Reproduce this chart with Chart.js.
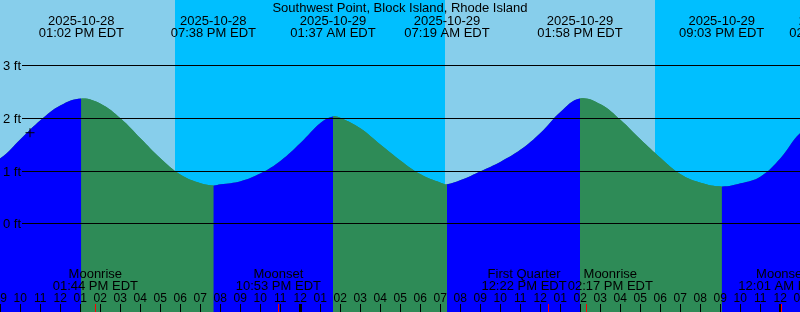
<!DOCTYPE html>
<html>
<head>
<meta charset="utf-8">
<script src="https://cdn.jsdelivr.net/npm/chart.js@4.4.1/dist/chart.umd.min.js"></script>
<style>
  html, body { margin: 0; padding: 0; background: #87ceeb; }
  #tide { display: block; }
</style>
</head>
<body>
<canvas id="tide" width="800" height="312"></canvas>
<script>
(function() {
  const stationName = 'Southwest Point, Block Island, Rhode Island';

  // predicted water level ('MM-DD HH:MM' EDT, feet)
  const tideTimes = [
    '10-28 06:40', '10-28 09:00', '10-28 10:00', '10-28 11:00', '10-28 12:00',
    '10-28 13:02', '10-28 14:00', '10-28 15:00', '10-28 16:00', '10-28 17:00', '10-28 18:00',
    '10-28 19:00', '10-28 19:38', '10-28 20:00', '10-28 21:00', '10-28 22:00', '10-28 23:00',
    '10-29 00:00', '10-29 01:00', '10-29 01:37', '10-29 02:00', '10-29 03:00', '10-29 04:00',
    '10-29 05:00', '10-29 06:00', '10-29 07:00', '10-29 07:19', '10-29 08:00', '10-29 09:00',
    '10-29 10:00', '10-29 11:00', '10-29 12:00', '10-29 13:00', '10-29 13:58', '10-29 15:00',
    '10-29 16:00', '10-29 17:00', '10-29 18:00', '10-29 19:00', '10-29 20:00', '10-29 21:03',
    '10-29 22:00', '10-29 23:00', '10-30 00:00', '10-30 01:00', '10-30 02:34'
  ];
  const tideFeet = [
    0.72, 1.24, 1.60, 1.96, 2.24,
    2.37, 2.27, 1.99, 1.61, 1.23, 0.92,
    0.76, 0.72, 0.74, 0.80, 0.95, 1.19,
    1.53, 1.91, 2.03, 2.00, 1.80, 1.49,
    1.19, 0.93, 0.77, 0.74, 0.82, 0.99,
    1.17, 1.40, 1.72, 2.12, 2.37, 2.26,
    1.96, 1.59, 1.24, 0.93, 0.77, 0.70,
    0.76, 0.89, 1.24, 1.72, 2.10
  ];

  // high / low water labels along the top
  const extremeTimes = ['10-28 13:02', '10-28 19:38', '10-29 01:37', '10-29 07:19', '10-29 13:58', '10-29 21:03', '10-30 02:34'];

  const moonNames = ['Moonrise', 'Moonset', 'First Quarter', 'Moonrise', 'Moonset'];
  const moonTimes = ['10-28 13:44', '10-28 22:53', '10-29 12:22', '10-29 14:17', '10-30 00:01'];

  const sunTimes = ['10-28 17:43', '10-29 07:13', '10-29 17:42'];
  const sunKinds = ['set', 'rise', 'set'];

  const nowTime = '10-28 10:28';
  const nowFeet = 1.72;

  const feetTicks = [0, 1, 2, 3];
  const viewStart = '10-28 08:58';
  const viewEnd = '10-30 00:58';
  const feetMin = -1.684;
  const feetMax = 4.24;

  const DAY = '#87ceeb';
  const NIGHT = '#00bfff';
  const RISING = '#0000ff';
  const FALLING = '#2e8b57';
  const FONT = '13px "Liberation Sans", Arial, sans-serif';
  const SMALL_FONT = '12px "Liberation Sans", Arial, sans-serif';

  function toHours(s) {
    const [md, hm] = s.split(' ');
    const day = Number(md.split('-')[1]);
    const [h, m] = hm.split(':').map(Number);
    return (day - 28) * 24 + h + m / 60;
  }

  function pad(n) {
    return String(n).padStart(2, '0');
  }

  function clock(s) {
    const [h, m] = s.split(' ')[1].split(':').map(Number);
    const h12 = h % 12 === 0 ? 12 : h % 12;
    return `${pad(h12)}:${pad(m)} ${h < 12 ? 'AM' : 'PM'} EDT`;
  }

  const backdrop = {
    id: 'backdrop',
    beforeDraw(chart) {
      const {ctx, chartArea: a, scales: {x}} = chart;
      ctx.save();
      ctx.fillStyle = DAY;
      ctx.fillRect(a.left, a.top, a.width, a.height);
      ctx.fillStyle = NIGHT;
      let nightStart = null;
      sunTimes.forEach((t, i) => {
        const px = Math.round(x.getPixelForValue(toHours(t)));
        if (sunKinds[i] === 'set') {
          nightStart = px;
        } else {
          const from = nightStart === null ? a.left : nightStart;
          ctx.fillRect(from, a.top, px - from, a.height);
          nightStart = null;
        }
      });
      if (nightStart !== null) {
        ctx.fillRect(nightStart, a.top, a.right - nightStart, a.height);
      }
      ctx.restore();
    }
  };

  const overlay = {
    id: 'overlay',
    afterDatasetsDraw(chart) {
      const {ctx, chartArea: a, scales: {y}} = chart;
      ctx.save();
      ctx.strokeStyle = '#000';
      ctx.lineWidth = 1;
      ctx.fillStyle = '#000';
      ctx.font = FONT;
      ctx.textAlign = 'left';
      ctx.textBaseline = 'alphabetic';
      feetTicks.forEach((v) => {
        const py = Math.round(y.getPixelForValue(v)) + 0.5;
        ctx.beginPath();
        ctx.moveTo(22, py);
        ctx.lineTo(a.right, py);
        ctx.stroke();
        ctx.fillText(`${v} ft`, 3, py + 4.5);
      });
      ctx.restore();
    },
    afterDraw(chart) {
      const {ctx, chartArea: a, scales: {x}} = chart;
      ctx.save();
      ctx.fillStyle = '#000';
      ctx.textAlign = 'center';
      ctx.textBaseline = 'alphabetic';

      // title and tide extremes
      ctx.font = FONT;
      ctx.fillText(stationName, 400, 12);
      extremeTimes.forEach((t) => {
        const px = x.getPixelForValue(toHours(t));
        ctx.fillText(`2025-${t.split(' ')[0]}`, px, 24.5);
        ctx.fillText(clock(t), px, 36.5);
      });

      // moon events, pushed apart where two labels would overlap
      const moonX = moonTimes.map((t) => x.getPixelForValue(toHours(t)));
      const labelX = moonX.slice();
      const widths = moonNames.map((n, i) => Math.max(ctx.measureText(n).width, ctx.measureText(clock(moonTimes[i])).width));
      for (let i = 1; i < labelX.length; i++) {
        const overlap = (widths[i - 1] + widths[i]) / 2 + 1 - (labelX[i] - labelX[i - 1]);
        if (overlap > 0) {
          labelX[i - 1] -= overlap / 2;
          labelX[i] += overlap / 2;
        }
      }
      moonTimes.forEach((t, i) => {
        ctx.fillText(moonNames[i], labelX[i], 278);
        ctx.fillText(clock(t), labelX[i], 290);
      });

      // hour ticks
      ctx.font = SMALL_FONT;
      for (let h = Math.ceil(x.min); h <= Math.floor(x.max) + 1; h++) {
        const px = x.getPixelForValue(h);
        const midnight = h % 24 === 0;
        ctx.fillRect(Math.floor(px) - (midnight ? 1 : 0), 304, midnight ? 3 : 1, a.bottom - 304);
        const h12 = (h % 12) === 0 ? 12 : h % 12;
        ctx.fillText(pad(h12), px - 0.5, 301.5);
      }
      ctx.fillStyle = '#ff0000';
      moonX.forEach((px) => {
        ctx.fillRect(Math.floor(px), 304, 1, a.bottom - 304);
      });
      ctx.restore();
    }
  };

  const tidePoints = tideTimes.map((t, i) => ({x: toHours(t), y: tideFeet[i]}));

  new Chart(document.getElementById('tide'), {
    type: 'line',
    data: {
      datasets: [{
        label: 'Now',
        data: [{x: toHours(nowTime), y: nowFeet}],
        showLine: false,
        pointStyle: 'cross',
        pointRadius: 4.5,
        borderColor: '#000',
        borderWidth: 1
      }, {
        label: 'Tide',
        data: tidePoints,
        fill: 'start',
        backgroundColor: RISING,
        borderColor: 'rgba(0,0,0,0)',
        borderWidth: 0,
        pointRadius: 0,
        tension: 0.4,
        segment: {
          backgroundColor: (c) => (c.p1.parsed.y >= c.p0.parsed.y ? RISING : FALLING)
        }
      }, {
        // same curve underneath so the seams between coloured pieces stay filled
        label: 'Underlay',
        data: tidePoints,
        fill: 'start',
        backgroundColor: FALLING,
        borderColor: 'rgba(0,0,0,0)',
        borderWidth: 0,
        pointRadius: 0,
        tension: 0.4
      }]
    },
    options: {
      responsive: false,
      animation: false,
      devicePixelRatio: 1,
      events: [],
      layout: { padding: 0, autoPadding: false },
      scales: {
        x: {
          type: 'linear',
          display: false,
          min: toHours(viewStart),
          max: toHours(viewEnd)
        },
        y: {
          type: 'linear',
          display: false,
          min: feetMin,
          max: feetMax
        }
      },
      plugins: {
        legend: { display: false },
        tooltip: { enabled: false }
      }
    },
    plugins: [backdrop, overlay]
  });
})();
</script>
</body>
</html>
